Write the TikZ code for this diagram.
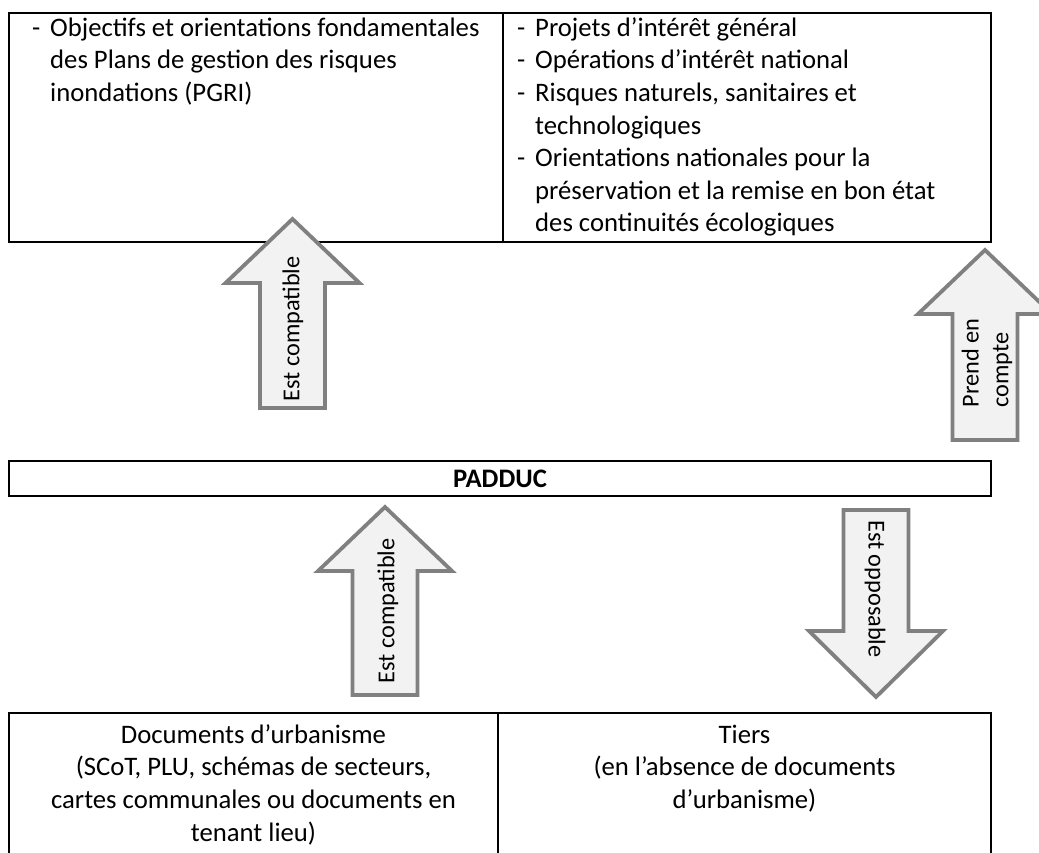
\documentclass[tikz,border=0pt]{standalone}
\usepackage{fontspec}
\setmainfont{Carlito}
\definecolor{arrowfill}{HTML}{F2F2F2}
\definecolor{arrowline}{HTML}{808080}
\newcommand{\upblock}[4]{% center, tip, base, bottom
  \draw[blockarrow] (#1,#2) -- ({#1+67},#3) -- ({#1+32.5},#3) -- ({#1+32.5},#4)
    -- ({#1-32.5},#4) -- ({#1-32.5},#3) -- ({#1-67},#3) -- cycle;}
\newcommand{\downblock}[4]{% center, top, base, tip
  \draw[blockarrow] (#1,#4) -- ({#1+67},#3) -- ({#1+32.5},#3) -- ({#1+32.5},#2)
    -- ({#1-32.5},#2) -- ({#1-32.5},#3) -- ({#1-67},#3) -- cycle;}
\begin{document}
\begin{tikzpicture}[x=1pt,y=-1pt,
  tablerule/.style={line width=2.5pt, black},
  blockarrow/.style={fill=arrowfill, draw=arrowline, line width=3.8pt, line join=miter},
  celltext/.style={inner sep=0pt, font=\fontsize{26.7}{32.6}\selectfont},
  arrowtext/.style={inner sep=0pt, font=\fontsize{24.3}{29.7}\selectfont}]
\useasboundingbox[fill=white] (0,0) rectangle (1039,852);

% top table
\draw[tablerule] (9,13) rectangle (991,242);
\draw[tablerule] (503,13) -- (503,242);
\node[celltext, anchor=north west, align=left] (pgri) at (32,12)
  {\rule{0pt}{24pt}\makebox[18pt][l]{-}Objectifs et orientations fondamentales\\
   \hspace*{18pt}des Plans de gestion des risques\\
   \hspace*{18pt}inondations (PGRI)};
\node[celltext, anchor=north west, align=left] (nat) at (517,12)
  {\rule{0pt}{24pt}\makebox[18pt][l]{-}Projets d’intérêt général\\
   \makebox[18pt][l]{-}Opérations d’intérêt national\\
   \makebox[18pt][l]{-}Risques naturels, sanitaires et\\
   \hspace*{18pt}technologiques\\
   \makebox[18pt][l]{-}Orientations nationales pour la\\
   \hspace*{18pt}préservation et la remise en bon état\\
   \hspace*{18pt}des continuités écologiques};

% PADDUC
\node[draw, line width=2.5pt, minimum width=982pt, minimum height=35pt, inner sep=0pt,
      font=\fontsize{26.7}{32.6}\selectfont\bfseries] (padduc) at (500,478.5) {PADDUC};

% bottom table
\draw[tablerule] (9,860) -- (9,713) -- (991,713) -- (991,860);
\draw[tablerule] (498,713) -- (498,860);
\node[celltext, anchor=north, align=center] (docs) at (253.5,719)
  {\rule{0pt}{24pt}Documents d’urbanisme\\
   (SCoT, PLU, schémas de secteurs,\\
   cartes communales ou documents en\\
   tenant lieu)};
\node[celltext, anchor=north, align=center] (tiers) at (744.5,719)
  {\rule{0pt}{24pt}Tiers\\
   (en l’absence de documents\\
   d’urbanisme)};

% block arrows
\upblock{292.5}{219}{283}{408}
\node[arrowtext, rotate=90] (a1) at (293,329) {Est compatible};
\upblock{985}{250}{314}{440}
\node[arrowtext, rotate=90, align=left] (a2) at (987,363) {Prend en\\compte};
\upblock{385}{507}{571}{695}
\node[arrowtext, rotate=90] (a3) at (388,611) {Est compatible};
\downblock{876}{510}{631}{697}
\node[arrowtext, rotate=-90] (a4) at (875,589) {Est opposable};
\end{tikzpicture}
\end{document}
